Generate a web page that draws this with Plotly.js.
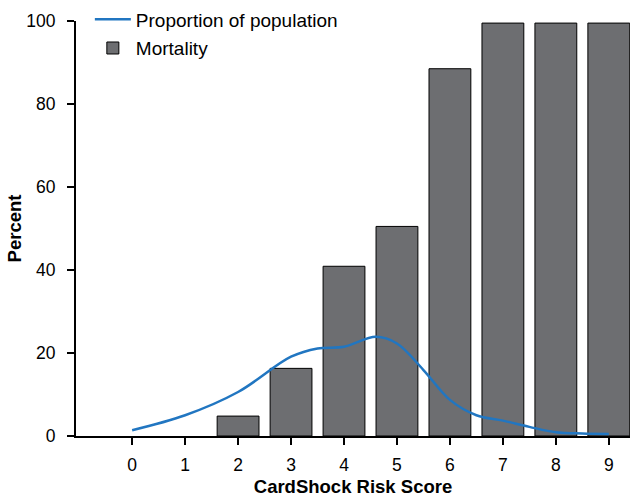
<!DOCTYPE html>
<html>
<head>
<meta charset="utf-8">
<script src="https://cdn.plot.ly/plotly-3.0.1.min.js"></script>
<style>html,body{margin:0;padding:0;background:#fff;}#chart{width:631px;height:498px;}</style>
</head>
<body>
<div id="chart"></div>
<script>
// Mortality by CardShock risk score (bars)
const scores = [2, 3, 4, 5, 6, 7, 8, 9];
const mortality = [4.8, 16.3, 40.9, 50.5, 88.5, 99.5, 99.5, 99.5];

// Proportion of population (smoothed line)
const popX = [0, 1, 2, 3, 3.5, 4, 4.6, 5, 5.5, 6, 6.5, 7, 7.5, 8, 8.5, 9];
const popY = [1.4, 5.0, 10.6, 19.1, 21.1, 21.5, 23.9, 22.3, 15.9, 8.7, 5.0, 3.7, 2.2, 0.9, 0.6, 0.5];

const xTicks = [0, 1, 2, 3, 4, 5, 6, 7, 8, 9];
const yTicks = [0, 20, 40, 60, 80, 100];

const traces = [
  {
    type: 'scatter', mode: 'lines', name: 'Proportion of population',
    x: popX, y: popY, legendgroup: 'a',
    line: {color: '#2176c1', width: 2.5, shape: 'spline', smoothing: 1},
    hoverinfo: 'skip'
  },
  {
    type: 'bar', name: 'Mortality',
    x: scores, y: mortality, legendgroup: 'b',
    marker: {color: '#6d6e71', line: {color: '#000', width: 1}},
    hoverinfo: 'skip'
  }
];

const fam = 'Liberation Sans, Arial, Helvetica, sans-serif';
const tickFont = {family: fam, size: 17.5, color: '#000'};
const titleFont = {family: fam, size: 18.5, color: '#000'};
const legendFont = {family: fam, size: 19, color: '#000'};

const layout = {
  width: 631, height: 498,
  margin: {l: 76, r: 1, t: 20, b: 62},
  paper_bgcolor: '#fff', plot_bgcolor: '#fff',
  font: tickFont,
  showlegend: true,
  legend: {
    x: 0.025, y: 1.047, xanchor: 'left', yanchor: 'top',
    bgcolor: 'rgba(0,0,0,0)', font: legendFont,
    traceorder: 'grouped', tracegroupgap: 1, itemwidth: 36
  },
  bargap: 0.21,
  xaxis: {
    range: [-1.06, 9.4],
    tickmode: 'array', tickvals: xTicks, ticktext: xTicks.map(String),
    ticks: 'outside', ticklen: 7, tickwidth: 2, tickcolor: '#000',
    ticklabelstandoff: 5,
    showline: true, linecolor: '#000', linewidth: 2,
    showgrid: false, zeroline: false,
    tickfont: tickFont,
    title: {text: '<b>CardShock Risk Score</b>', font: titleFont, standoff: 6}
  },
  yaxis: {
    range: [0, 100],
    tickmode: 'array', tickvals: yTicks, ticktext: yTicks.map(String),
    ticks: 'outside', ticklen: 7, tickwidth: 2, tickcolor: '#000',
    ticklabelstandoff: 8,
    showline: true, linecolor: '#000', linewidth: 2,
    showgrid: false, zeroline: false,
    tickfont: tickFont,
    title: {text: '<b>Percent</b>', font: titleFont, standoff: 0}
  }
};

Plotly.newPlot('chart', traces, layout, {displayModeBar: false, staticPlot: true});
</script>
</body>
</html>
